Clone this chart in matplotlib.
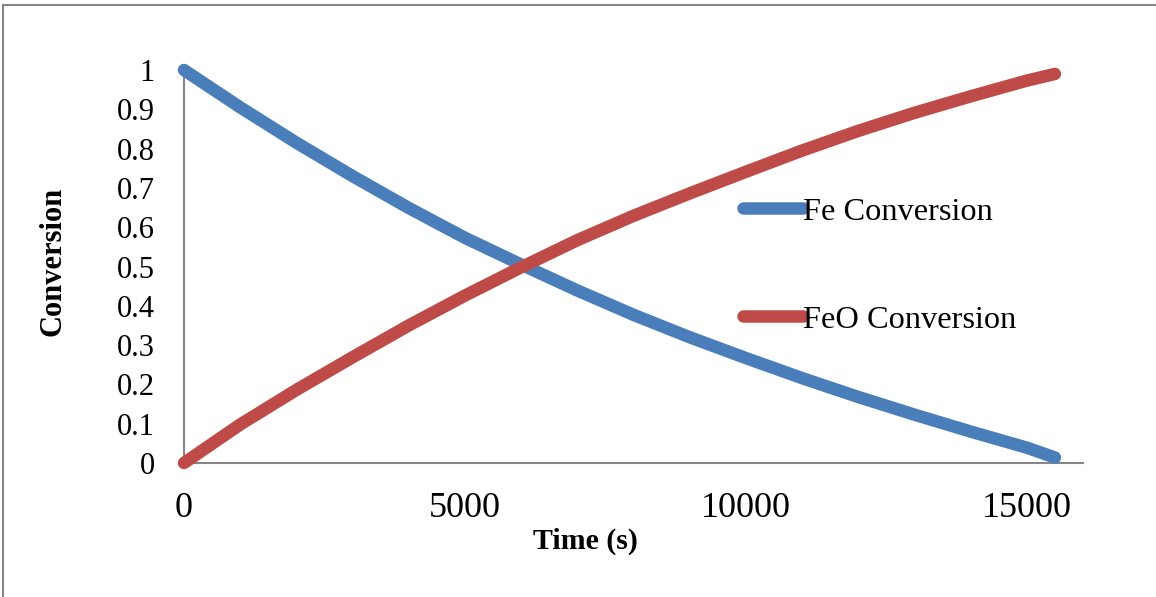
import matplotlib
matplotlib.use("Agg")
import matplotlib.pyplot as plt
from matplotlib.lines import Line2D

time_s = [0, 1000, 2000, 3000, 4000, 5000, 6000, 7000, 8000, 9000,
          10000, 11000, 12000, 13000, 14000, 15000, 15500]
fe_conversion = [1.000, 0.905, 0.815, 0.730, 0.649, 0.573, 0.505, 0.439, 0.377,
                 0.320, 0.267, 0.216, 0.168, 0.123, 0.080, 0.039, 0.014]
feo_conversion = [0.000, 0.098, 0.186, 0.269, 0.350, 0.426, 0.498, 0.567, 0.629,
                  0.686, 0.741, 0.795, 0.845, 0.891, 0.933, 0.973, 0.990]
series_labels = ["Fe Conversion", "FeO Conversion"]
x_ticks = [0, 5000, 10000, 15000]
y_ticks = [0, 0.1, 0.2, 0.3, 0.4, 0.5, 0.6, 0.7, 0.8, 0.9, 1]
y_tick_labels = ["0", "0.1", "0.2", "0.3", "0.4", "0.5", "0.6", "0.7", "0.8", "0.9", "1"]

plt.rcParams['font.family'] = ['Liberation Serif', 'DejaVu Serif']

W, H = 1156, 597
fig = plt.figure(figsize=(W / 100, H / 100), dpi=100)

# outer chart frame (left & top visible)
frame_col = '#868686'
fig.add_artist(Line2D([3 / W, 3 / W], [0, 1 - 5 / H], transform=fig.transFigure,
                      color=frame_col, lw=1.5))
fig.add_artist(Line2D([3 / W, 1], [1 - 5 / H, 1 - 5 / H], transform=fig.transFigure,
                      color=frame_col, lw=1.5))

x0, x1 = 184, 1083
y_top, y_bot = 70, 463
ax = fig.add_axes([x0 / W, (H - y_bot) / H, (x1 - x0) / W, (y_bot - y_top) / H])

blue = '#4A7EBB'
red = '#BE4B48'
LW = 9
ax.plot(time_s, fe_conversion, color=blue, lw=LW, solid_capstyle='round',
        solid_joinstyle='round', clip_on=False, label=series_labels[0], zorder=3)
ax.plot(time_s, feo_conversion, color=red, lw=LW, solid_capstyle='round',
        solid_joinstyle='round', clip_on=False, label=series_labels[1], zorder=3)

ax.set_xlim(0, 16000)
ax.set_ylim(0, 1)
ax.set_xticks(x_ticks)
ax.set_xticklabels([str(t) for t in x_ticks], fontsize=26)
ax.set_yticks(y_ticks)
ax.set_yticklabels(y_tick_labels, fontsize=22)
ax.tick_params(axis='x', length=0, pad=21)
ax.tick_params(axis='y', length=0, pad=21)

for s in ['top', 'right']:
    ax.spines[s].set_visible(False)
for s in ['left', 'bottom']:
    ax.spines[s].set_color(frame_col)
    ax.spines[s].set_linewidth(1.5)

ax.set_xlabel("Time (s)", fontsize=21.5, fontweight='bold')
ax.xaxis.set_label_coords((585 - x0) / (x1 - x0), -(528 - y_bot) / (y_bot - y_top))
ax.set_ylabel("Conversion", fontsize=22, fontweight='bold')
ax.yaxis.set_label_coords((67 - x0) / (x1 - x0), (y_bot - 261) / (y_bot - y_top))

leg = ax.legend(loc='upper left', bbox_to_anchor=((743 - x0) / (x1 - x0), (y_bot - 197) / (y_bot - y_top)),
                frameon=False, fontsize=23.3, handlelength=1.85, handletextpad=0.0,
                labelspacing=2.42, borderpad=0, borderaxespad=0)
for h in leg.legend_handles:
    h.set_linewidth(LW)
    h.set_solid_capstyle('round')

fig.savefig("out.png", dpi=100)
